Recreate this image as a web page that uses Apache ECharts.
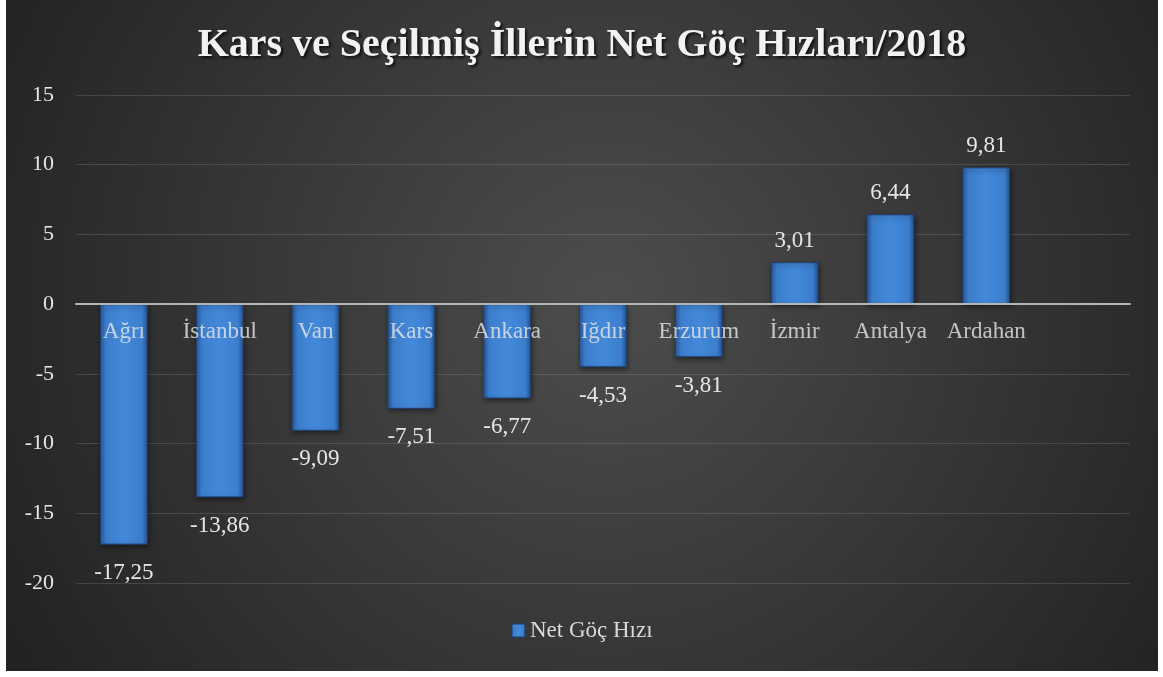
<!DOCTYPE html>
<html>
<head>
<meta charset="utf-8">
<script src="https://cdn.jsdelivr.net/npm/echarts@6/dist/echarts.min.js"></script>
<style>
html,body{margin:0;padding:0;background:#ffffff;}
#chart{position:absolute;left:6px;top:0;width:1152px;height:671px;}
</style>
</head>
<body>
<div id="chart"></div>
<script>
var categories = ['Ağrı','İstanbul','Van','Kars','Ankara','Iğdır','Erzurum','İzmir','Antalya','Ardahan',''];
var netGocHizi = [-17.25,-13.86,-9.09,-7.51,-6.77,-4.53,-3.81,3.01,6.44,9.81,null];
var seriesName = 'Net Göç Hızı';
var titleText = 'Kars ve Seçilmiş İllerin Net Göç Hızları/2018';
var yMin = -20, yMax = 15, yStep = 5;

var serif = '"Liberation Serif","Times New Roman",serif';
var chart = echarts.init(document.getElementById('chart'), null, {renderer:'canvas'});

var barColor = {
  type:'linear', x:0, y:0, x2:1, y2:0,
  colorStops:[
    {offset:0, color:'#2b5c9e'},
    {offset:0.12, color:'#3c7ecd'},
    {offset:0.5, color:'#4389da'},
    {offset:0.88, color:'#3c7ecd'},
    {offset:1, color:'#28558f'}
  ]
};

var data = netGocHizi.map(function(v){
  if (v === null) return {value:null};
  return {
    value:v,
    label:{
      position: v < 0 ? 'bottom' : 'top',
      distance: v < 0 ? 17 : 10
    }
  };
});

var catLabelData = categories.map(function(c){ return [c, 0]; });

chart.setOption({
  backgroundColor:{
    type:'radial', x:0.52, y:0.45, r:1.0,
    colorStops:[
      {offset:0, color:'#4d4d4d'},
      {offset:1, color:'#232323'}
    ]
  },
  title:{
    text:titleText,
    left:'center',
    top:21,
    textStyle:{
      fontFamily:serif,
      fontWeight:'bold',
      fontSize:40,
      color:'#f2f2f2',
      textShadowColor:'rgba(0,0,0,0.75)',
      textShadowBlur:3,
      textShadowOffsetX:2,
      textShadowOffsetY:2
    }
  },
  legend:{
    bottom:24,
    left:'center',
    icon:'rect',
    itemWidth:13,
    itemHeight:13,
    itemGap:4,
    textStyle:{fontFamily:serif, fontSize:23, color:'#d9d9d9'},
    data:[{name:seriesName, itemStyle:{color:barColor, borderColor:'#1f3f6e', borderWidth:1}}]
  },
  grid:{left:70, right:28, top:95, bottom:88},
  xAxis:{
    type:'category',
    data:categories,
    z:10,
    axisTick:{show:false},
    axisLine:{show:true, onZero:true, lineStyle:{color:'#b5b5b5', width:2}},
    axisLabel:{show:false},
    splitLine:{show:false}
  },
  yAxis:{
    type:'value',
    min:yMin, max:yMax, interval:yStep,
    axisLine:{show:false},
    axisTick:{show:false},
    axisLabel:{
      margin:22,
      fontFamily:serif,
      fontSize:22,
      color:'#e6e6e6'
    },
    splitLine:{lineStyle:{color:'rgba(255,255,255,0.13)', width:1}}
  },
  series:[{
    name:seriesName,
    type:'bar',
    data:data,
    barWidth:'50%',
    itemStyle:{
      color:barColor,
      borderColor:'#1f3f6e',
      borderWidth:1,
      shadowColor:'rgba(0,0,0,0.55)',
      shadowBlur:5,
      shadowOffsetX:1,
      shadowOffsetY:2
    },
    label:{
      show:true,
      fontFamily:serif,
      fontSize:23,
      color:'#e6e6e6',
      formatter:function(p){ return p.value==null ? '' : String(p.value.toFixed(2)).replace('.',','); }
    }
  },{
    name:'categoryLabels',
    type:'scatter',
    data:catLabelData,
    symbolSize:0,
    z:20,
    silent:true,
    tooltip:{show:false},
    label:{
      show:true,
      position:'bottom',
      distance:16,
      fontFamily:serif,
      fontSize:23,
      color:'#e6e6e6',
      formatter:function(p){ return p.name; }
    }
  }]
});
</script>
</body>
</html>
